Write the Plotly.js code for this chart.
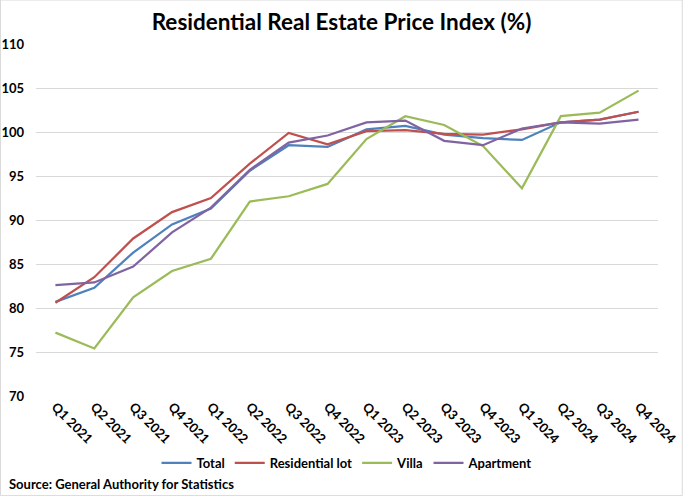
<!DOCTYPE html>
<html>
<head>
<meta charset="utf-8">
<script src="https://cdn.plot.ly/plotly-3.0.1.min.js"></script>
<style>html,body{margin:0;padding:0;background:#fff;}#chart{width:683px;height:496px;}</style>
</head>
<body>
<div id="chart"></div>
<script>
const quarters = ["Q1 2021","Q2 2021","Q3 2021","Q4 2021","Q1 2022","Q2 2022","Q3 2022","Q4 2022",
                  "Q1 2023","Q2 2023","Q3 2023","Q4 2023","Q1 2024","Q2 2024","Q3 2024","Q4 2024"];
const total       = [80.7, 82.3, 86.3, 89.5, 91.3, 95.6, 98.5, 98.3, 100.3, 100.7, 99.7, 99.3, 99.1, 101.1, 101.4, 102.3];
const residential = [80.6, 83.5, 87.9, 90.9, 92.5, 96.4, 99.9, 98.6, 100.1, 100.2, 99.8, 99.7, 100.3, 101.1, 101.4, 102.3];
const villa       = [77.2, 75.4, 81.2, 84.2, 85.6, 92.1, 92.7, 94.1, 99.2, 101.8, 100.8, 98.4, 93.6, 101.8, 102.2, 104.7];
const apartment   = [82.6, 82.9, 84.7, 88.6, 91.4, 95.7, 98.8, 99.6, 101.1, 101.3, 99.0, 98.5, 100.4, 101.1, 100.95, 101.4];

const seriesNames = ["Total", "Residential lot", "Villa", "Apartment"];
const seriesData = [total, residential, villa, apartment];
const colors = ["#4F81BD", "#C0504D", "#9BBB59", "#8064A2"];

const traces = seriesData.map((d, i) => ({
  x: quarters, y: d, name: seriesNames[i], type: "scatter", mode: "lines",
  line: {color: colors[i], width: 2.25}
}));

const F = "Lato, 'Open Sans', sans-serif";
const layout = {
  width: 683, height: 496,
  margin: {l: 36, r: 25, t: 44, b: 100},
  paper_bgcolor: "#fff", plot_bgcolor: "#fff",
  font: {family: F, color: "#000"},
  title: {text: "<b>Residential Real Estate Price Index (%)</b>", font: {family: F, size: 22.5, color: "#000"},
          x: 0.5, xanchor: "center", y: 0.955, yanchor: "middle"},
  xaxis: {type: "category", range: [-0.5, 15.5], tickangle: 45, tickfont: {family: F, size: 13, color: "#000", weight: "bold"},
          showgrid: false, showline: false, zeroline: false, ticks: ""},
  yaxis: {range: [70, 110], dtick: 5, tickfont: {family: F, size: 13, color: "#000", weight: "bold"},
          gridcolor: "#D9D9D9", gridwidth: 1, zeroline: false, showline: false, ticks: "", ticklabelstandoff: 11},
  legend: {orientation: "h", x: 0.5, xanchor: "center", y: -0.19, yanchor: "middle",
           font: {family: F, size: 13, color: "#000", weight: "bold"}, itemwidth: 30, tracegroupgap: 0},
  showlegend: true,
  annotations: [{text: "<b>Source: General Authority for Statistics</b>", xref: "paper", yref: "paper",
                 x: -0.046, y: -0.25, xanchor: "left", yanchor: "middle", showarrow: false,
                 font: {family: F, size: 13, color: "#000"}}],
  shapes: [{type: "rect", xref: "paper", yref: "paper", x0: -0.0571, x1: 1.039, y0: -0.283, y1: 1.125,
            line: {color: "#D9D9D9", width: 1}}]
};
Plotly.newPlot("chart", traces, layout, {displayModeBar: false, staticPlot: true});
</script>
</body>
</html>
